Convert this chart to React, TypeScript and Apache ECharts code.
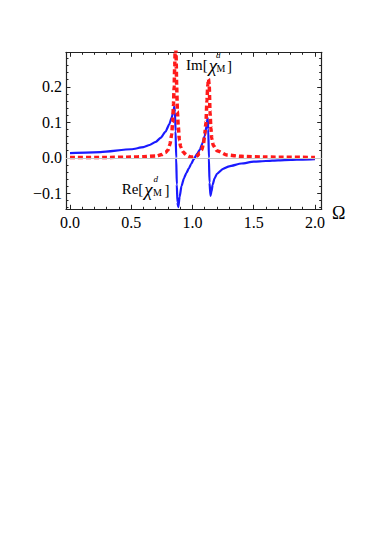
import React, { useEffect, useRef } from "react";
import * as echarts from "echarts";

// Re[chi] (blue solid)
const reOmega = [0, 0.25, 0.5, 0.6, 0.65, 0.7, 0.74, 0.78, 0.81, 0.83, 0.845, 0.851, 0.857, 0.862, 0.867, 0.872, 0.877, 0.884, 0.895, 0.91, 0.93, 0.95, 0.97, 0.99, 1.01, 1.04, 1.06, 1.08, 1.1, 1.115, 1.124, 1.129, 1.134, 1.139, 1.147, 1.155, 1.165, 1.18, 1.2, 1.25, 1.3, 1.4, 1.5, 1.6, 1.7, 1.8, 1.9, 2.0];
const reValues = [0.013, 0.016, 0.024, 0.030, 0.036, 0.045, 0.056, 0.074, 0.094, 0.113, 0.132, 0.144, 0.128, 0.075, 0.0, -0.075, -0.125, -0.139, -0.11, -0.08, -0.058, -0.043, -0.03, -0.017, -0.004, 0.012, 0.023, 0.040, 0.062, 0.09, 0.113, 0.08, 0.0, -0.07, -0.107, -0.095, -0.075, -0.058, -0.045, -0.031, -0.024, -0.016, -0.011, -0.009, -0.007, -0.006, -0.005, -0.004];

// Im[chi] (red dashed)
const imOmega = [0, 0.3, 0.5, 0.6, 0.7, 0.75, 0.78, 0.8, 0.816, 0.83, 0.838, 0.845, 0.85, 0.855, 0.861, 0.866, 0.871, 0.877, 0.884, 0.893, 0.903, 0.92, 0.94, 0.96, 0.98, 1.0, 1.02, 1.04, 1.06, 1.075, 1.09, 1.1, 1.11, 1.118, 1.125, 1.131, 1.137, 1.143, 1.15, 1.157, 1.17, 1.2, 1.28, 1.4, 1.6, 2.0];
const imValues = [0.001, 0.001, 0.002, 0.003, 0.005, 0.009, 0.015, 0.022, 0.038, 0.065, 0.1, 0.15, 0.2, 0.26, 0.34, 0.29, 0.2, 0.13, 0.088, 0.05, 0.031, 0.018, 0.011, 0.006, 0.003, 0.002, 0.003, 0.006, 0.014, 0.022, 0.04, 0.065, 0.1, 0.16, 0.205, 0.222, 0.2, 0.13, 0.085, 0.055, 0.035, 0.02, 0.008, 0.004, 0.002, 0.001];

const xRange = [-0.0327, 2.055];
const yRange = [-0.145, 0.297];
const xLabelStep = 0.5;
const yLabelStep = 0.1;

const FONT = "Liberation Serif";

function isMultiple(v: number, step: number) {
  const r = v / step;
  return Math.abs(r - Math.round(r)) < 1e-6;
}

function fmt(v: number) {
  const s = Math.abs(v).toFixed(1);
  return v < -1e-9 ? "\u2212" + s : s;
}

export default function App() {
  const ref = useRef<HTMLDivElement>(null);
  useEffect(() => {
    document.body.style.margin = "0";
    const chart = echarts.init(ref.current!, null, { renderer: "svg" });
    const lineCol = "#222";
    const axisCommon = (isX: boolean, pos: string, showLabels: boolean) => ({
      type: "value",
      position: pos,
      min: isX ? xRange[0] : yRange[0],
      max: isX ? xRange[1] : yRange[1],
      splitNumber: 4,
      axisLine: { show: true, onZero: false, lineStyle: { color: lineCol, width: 1.2 } },
      axisTick: { show: true, inside: true, length: 4.5, lineStyle: { color: lineCol, width: 1 } },
      minorTick: { show: true, splitNumber: 5, length: 2.5, lineStyle: { color: lineCol, width: 1 } },
      splitLine: { show: false },
      axisLabel: {
        show: showLabels,
        fontFamily: FONT,
        fontSize: 16,
        color: "#000",
        margin: isX ? 5 : 4,
        formatter: (v: number) => (isMultiple(v, isX ? xLabelStep : yLabelStep) ? fmt(v) : ""),
      },
    });

    const txt = (x: number, y: number, text: string, size: number, italic = false) => ({
      type: "text",
      x,
      y,
      style: {
        text,
        fontSize: size,
        fontFamily: FONT,
        fontStyle: italic ? "italic" : "normal",
        fill: "#000",
        align: "left",
        verticalAlign: "middle",
      },
    });

    const richHead = (x: number, y: number, head: string) => ({
      type: "text",
      x,
      y,
      style: {
        text: `{h|${head}[}{c|\u03c7}`,
        fill: "#000",
        align: "left",
        verticalAlign: "middle",
        rich: {
          h: { fontSize: 15, fontFamily: FONT, fill: "#000" },
          c: { fontSize: 19, fontFamily: FONT, fontStyle: "italic", fill: "#000", padding: [0, 0, 0, 1] },
        },
      },
    });

    chart.setOption({
      animation: false,
      backgroundColor: "#fff",
      grid: { left: 66, right: 60.3, top: 52.3, bottom: 330.7, containLabel: false },
      xAxis: [axisCommon(true, "bottom", true), axisCommon(true, "top", false)],
      yAxis: [axisCommon(false, "left", true), axisCommon(false, "right", false)],
      series: [
        {
          type: "line",
          data: [],
          z: 1,
          markLine: {
            silent: true,
            symbol: ["none", "none"],
            label: { show: false },
            lineStyle: { color: "#c4c4c4", width: 1, type: "solid" },
            data: [{ yAxis: 0 }],
          },
        },
        {
          name: "Re",
          type: "line",
          data: reOmega.map((x, i) => [x, reValues[i]]),
          showSymbol: false,
          smooth: 0.2,
          smoothMonotone: "x",
          lineStyle: { color: "#1a1aff", width: 2.2 },
          z: 3,
        },
        {
          name: "Im",
          type: "line",
          data: imOmega.map((x, i) => [x, imValues[i]]),
          showSymbol: false,
          smooth: 0.2,
          smoothMonotone: "x",
          lineStyle: { color: "#ff1a1a", width: 3.5, type: [5, 3] },
          z: 4,
        },
      ],
      graphic: [
        // Im label
        richHead(186, 65, "Im"),
        txt(216, 54.5, "d", 9, true),
        txt(216.5, 68.5, "M", 10),
        txt(227, 65.9, "]", 15),
        // Re label
        richHead(121.7, 189, "Re"),
        txt(153.5, 178.5, "d", 9, true),
        txt(153, 192.5, "M", 10),
        txt(164.5, 189.9, "]", 15),
        // Omega
        txt(332, 212.9, "\u03a9", 18),
      ],
    });
    return () => chart.dispose();
  }, []);
  return <div ref={ref} style={{ width: 382, height: 540 }} />;
}
